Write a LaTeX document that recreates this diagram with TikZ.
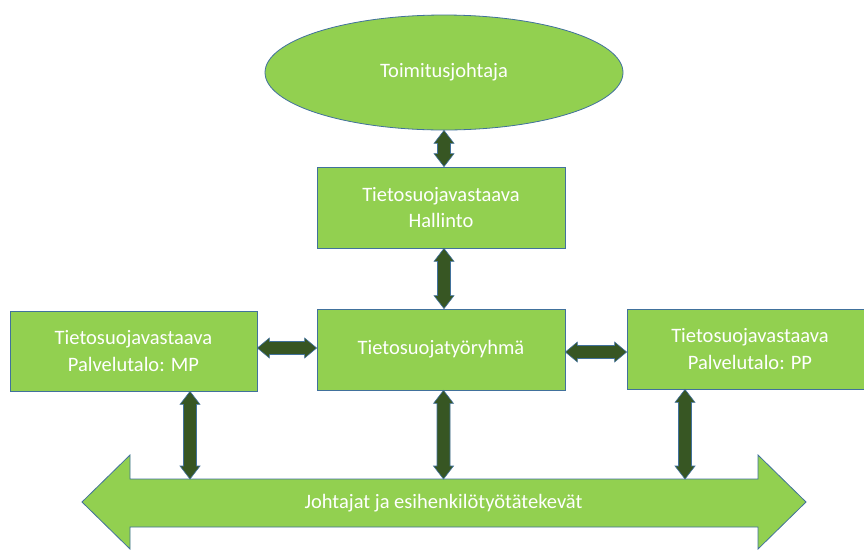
\documentclass[tikz,border=0pt]{standalone}
\usepackage{fontspec}
\setmainfont{Carlito}
\usetikzlibrary{calc,shapes.geometric}
\definecolor{boxgreen}{HTML}{92D050}
\definecolor{edgeblue}{HTML}{41719C}
\definecolor{arrowdark}{HTML}{375623}
\newcommand\vlink[2]{\draw[link] let \p1=(#1), \p2=(#2) in
  (\x1,\y1) -- (\x1+10pt,\y1-13pt) -- (\x1+6.5pt,\y1-13pt) -- (\x1+6.5pt,\y2+13pt) -- (\x1+10pt,\y2+13pt) -- (\x1,\y2)
  -- (\x1-10pt,\y2+13pt) -- (\x1-6.5pt,\y2+13pt) -- (\x1-6.5pt,\y1-13pt) -- (\x1-10pt,\y1-13pt) -- cycle;}
\newcommand\hlink[2]{\draw[link] let \p1=(#1), \p2=(#2) in
  (\x1,\y1) -- (\x1+12pt,\y1+10pt) -- (\x1+12pt,\y1+6.5pt) -- (\x2-12pt,\y1+6.5pt) -- (\x2-12pt,\y1+10pt) -- (\x2,\y1)
  -- (\x2-12pt,\y1-10pt) -- (\x2-12pt,\y1-6.5pt) -- (\x1+12pt,\y1-6.5pt) -- (\x1+12pt,\y1-10pt) -- cycle;}
\begin{document}
\begin{tikzpicture}[x=1pt,y=-1pt,
  txt/.style={text=white, align=center, font=\fontsize{20.5}{26.5}\selectfont},
  box/.style={txt, draw=edgeblue, line width=0.8pt, fill=boxgreen, inner sep=0pt},
  link/.style={draw=edgeblue, line width=0.6pt, fill=arrowdark},
  bigarrow/.style={draw=edgeblue, line width=0.8pt, fill=boxgreen}]
\clip (0,0) rectangle (864,550);
\fill[white] (0,0) rectangle (864,550);
\node[box, ellipse, minimum width=358pt, minimum height=115pt] (ceo) at (444,72.5) {Toimitusjohtaja};
\node[box, minimum width=248pt, minimum height=81pt] (hall) at (441,207.5) {Tietosuojavastaava\\Hallinto};
\node[box, minimum width=247pt, minimum height=80pt] (mp) at (133.5,351) {Tietosuojavastaava\\Palvelutalo: MP};
\node[box, minimum width=248pt, minimum height=81pt] (ctr) at (441,349.5) {Tietosuojatyöryhmä};
\node[box, minimum width=246pt, minimum height=80pt] (pp) at (750,349) {Tietosuojavastaava\\Palvelutalo: PP};
\draw[bigarrow] (82,502) -- (130,455) -- (130,479) -- (758,479) -- (758,455) -- (806,502)
  -- (758,549) -- (758,527) -- (130,527) -- (130,549) -- cycle;
\node[txt] (staff) at (443.5,503) {Johtajat ja esihenkilötyötätekevät};
\coordinate (t1) at (190,479);
\coordinate (t2) at (443.5,479);
\coordinate (t3) at (685,479);
\vlink{ceo.south}{ceo.south |- hall.north}
\vlink{ceo.south |- hall.south}{ceo.south |- ctr.north}
\vlink{mp.south -| t1}{t1}
\vlink{ctr.south -| t2}{t2}
\vlink{pp.south -| t3}{t3}
\hlink{$(mp.east)+(0,-3)$}{ctr.west}
\hlink{$(ctr.east)+(0,2.5)$}{pp.west}
\end{tikzpicture}
\end{document}
